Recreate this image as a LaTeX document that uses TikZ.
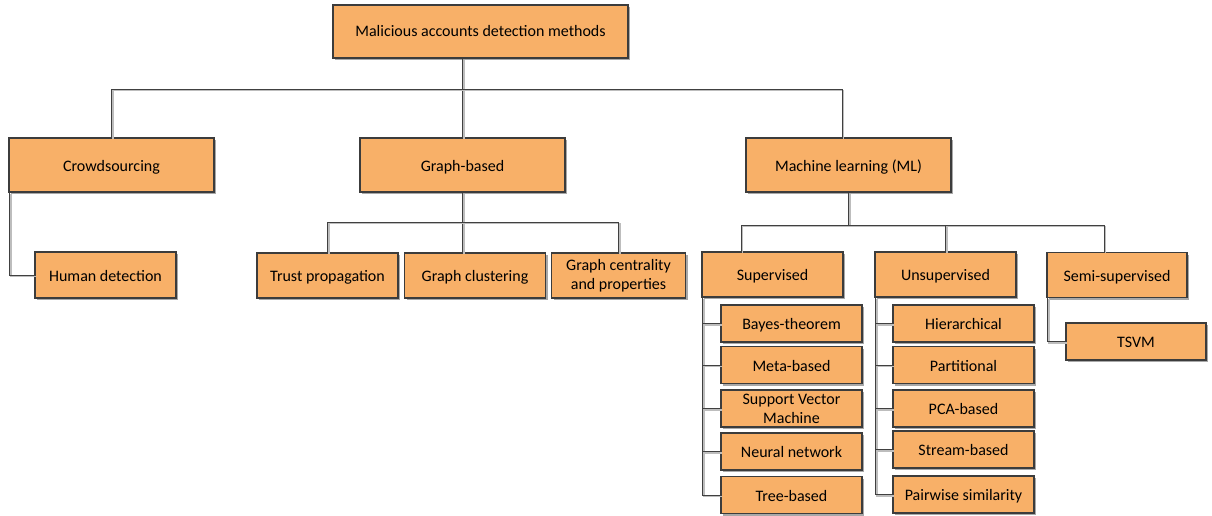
\documentclass[tikz,border=0pt]{standalone}
\usepackage{fontspec}
\setmainfont{Carlito}
\usetikzlibrary{shadows}

\definecolor{boxfill}{HTML}{F8B068}
\definecolor{boxline}{HTML}{3C3C3C}
\definecolor{shadowgray}{HTML}{A8A8A8}
\definecolor{linedark}{HTML}{404040}
\definecolor{lineshadow}{HTML}{BDBDBD}

\tikzset{
  boxbase/.style={draw=boxline, line width=1.1pt, fill=boxfill, inner sep=0pt,
    align=center, text=black, font=\fontsize{16}{19}\selectfont,
    drop shadow={shadow xshift=2.2pt, shadow yshift=-2.2pt,
      fill=shadowgray, opacity=1}},
  box/.style={boxbase, text height=14pt, text depth=2pt},
  twoline/.style={boxbase},
  conn/.style={draw=linedark, line width=1pt,
    preaction={draw=lineshadow, line width=1.3pt,
      transform canvas={shift={(1.4pt,-1.4pt)}}}},
}

\begin{document}
\begin{tikzpicture}[x=1pt, y=-1pt]
\useasboundingbox (0,0) rectangle (1212,515);

% root
\node[box, text height=13pt, text depth=3pt, minimum width=295pt, minimum height=53pt] (top) at (480.5,31.5)
  {Malicious accounts detection methods};

% first level
\node[box, minimum width=205pt, minimum height=54pt] (crowd) at (111.5,165) {Crowdsourcing};
\node[box, minimum width=205pt, minimum height=54pt] (graph) at (462.5,165) {Graph-based};
\node[box, minimum width=205pt, minimum height=54pt] (ml) at (848.5,165) {Machine learning (ML)};

% crowdsourcing
\node[box, minimum width=141pt, minimum height=46pt] (human) at (105.5,275) {Human detection};

% graph-based
\node[box, minimum width=141pt, minimum height=45pt] (trust) at (327.5,275.5) {Trust propagation};
\node[box, minimum width=141pt, minimum height=45pt] (clust) at (475,275.5) {Graph clustering};
\node[twoline, minimum width=134pt, minimum height=45pt] (cent) at (618.5,275.5) {Graph centrality\\and properties};

% machine learning
\node[box, minimum width=141pt, minimum height=45pt] (sup) at (772.5,274.5) {Supervised};
\node[box, minimum width=141pt, minimum height=45pt] (unsup) at (945.5,274.5) {Unsupervised};
\node[box, minimum width=140pt, minimum height=45pt] (semi) at (1117,275) {Semi-supervised};
\node[box, minimum width=140pt, minimum height=37pt] (tsvm) at (1136,341.5) {TSVM};

% supervised methods
\node[box, minimum width=141pt, minimum height=37pt] (bayes) at (791.5,323.5) {Bayes-theorem};
\node[box, minimum width=141pt, minimum height=37pt] (meta) at (791.5,365) {Meta-based};
\node[twoline, minimum width=141pt, minimum height=37pt] (svm) at (791.5,408.5) {Support Vector\\Machine};
\node[box, minimum width=141pt, minimum height=37pt] (nn) at (791.5,451.5) {Neural network};
\node[box, minimum width=141pt, minimum height=37pt] (tree) at (791.5,495) {Tree-based};

% unsupervised methods
\node[box, minimum width=141pt, minimum height=37pt] (hier) at (963.5,323.5) {Hierarchical};
\node[box, minimum width=141pt, minimum height=37pt] (part) at (963.5,365) {Partitional};
\node[box, minimum width=141pt, minimum height=37pt] (pca) at (963.5,408.5) {PCA-based};
\node[box, minimum width=141pt, minimum height=37pt] (stream) at (963.5,449.5) {Stream-based};
\node[box, minimum width=141pt, minimum height=37pt] (pair) at (963.5,494.5) {Pairwise similarity};

% bus levels and off-centre drop points
\coordinate (topbar) at (0,89);
\coordinate (mlx) at (842,0);
\coordinate (gbar) at (0,222);
\coordinate (mbar) at (0,225);
\coordinate (supx) at (741,0);
\coordinate (semix) at (1104,0);

% root to first level
\draw[conn] (graph.north |- top.south) -- (graph.north);
\draw[conn] (crowd.north) -- (crowd.north |- topbar) -- (mlx |- topbar) -- (mlx |- ml.north);

% crowdsourcing
\draw[conn] ([xshift=1pt]crowd.south west) |- (human.west);

% graph-based
\draw[conn] (graph.south) -- (graph.south |- clust.north);
\draw[conn] (trust.north) -- (trust.north |- gbar) -- (cent.north |- gbar) -- (cent.north);

% machine learning
\draw[conn] (ml.south) -- (ml.south |- mbar);
\draw[conn] (supx |- sup.north) -- (supx |- mbar) -- (semix |- mbar) -- (semix |- semi.north);
\draw[conn] (unsup.north) -- (unsup.north |- mbar);
\draw[conn] ([xshift=1pt]semi.south west) |- (tsvm.west);

% supervised branch
\draw[conn] ([xshift=1pt]sup.south west) |- (tree.west);
\foreach \n in {bayes,meta,svm,nn}
  \draw[conn] ([xshift=1pt]sup.south west |- \n.west) -- (\n.west);

% unsupervised branch
\draw[conn] ([xshift=1pt]unsup.south west) |- (pair.west);
\foreach \n in {hier,part,pca,stream}
  \draw[conn] ([xshift=1pt]unsup.south west |- \n.west) -- (\n.west);
\end{tikzpicture}
\end{document}
